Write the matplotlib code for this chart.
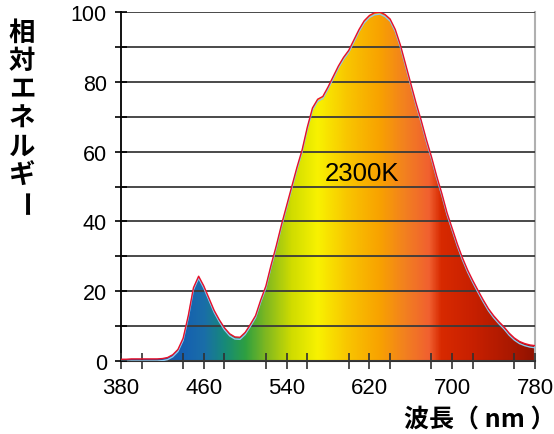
import numpy as np
import matplotlib
matplotlib.use("Agg")
import matplotlib.pyplot as plt
from matplotlib.colors import LinearSegmentedColormap
from matplotlib.patches import Polygon
from matplotlib.ticker import MultipleLocator

# ---- data ----
wavelength = [380, 385, 390, 395, 400, 405, 410, 415, 420, 425, 430, 435, 440, 445, 450,
              455, 460, 465, 470, 475, 480, 485, 490, 495, 500, 505, 510, 515, 520, 525,
              530, 535, 540, 545, 550, 555, 560, 565, 570, 575, 580, 585, 590, 595, 600,
              605, 610, 615, 620, 625, 630, 635, 640, 645, 650, 655, 660, 665, 670, 675,
              680, 685, 690, 695, 700, 705, 710, 715, 720, 725, 730, 735, 740, 745, 750,
              755, 760, 765, 770, 775, 780]
energy = [0.5, 0.5, 0.6, 0.6, 0.6, 0.6, 0.6, 0.6, 0.7, 1.0, 1.8, 3.3, 6.5, 13.0, 21.0,
          24.3, 21.5, 18.0, 14.5, 11.8, 9.5, 7.8, 6.9, 6.8, 8.2, 10.5, 13.0, 17.5, 21.5, 27.5,
          33.0, 39.0, 44.5, 50.0, 55.5, 60.5, 67.0, 72.5, 75.0, 75.8, 78.5, 81.5, 84.5, 87.0, 89.0,
          92.0, 95.0, 97.5, 99.0, 99.8, 100.0, 99.3, 98.0, 95.0, 90.5, 85.0, 79.5, 74.0, 69.0, 63.5,
          58.5, 53.0, 48.0, 42.5, 38.0, 33.5, 29.5, 26.0, 23.0, 20.2, 17.5, 15.0, 13.0, 11.3, 9.8,
          8.0, 6.6, 5.6, 5.0, 4.6, 4.4]
x_ticks = [380, 460, 540, 620, 700, 780]
y_ticks = [0, 20, 40, 60, 80, 100]
label_text = "2300K"
y_label_chars = ["相", "対", "エ", "ネ", "ル", "ギ", "ー"]
x_label = "波長（ nm ）"

# spectrum colour stops (wavelength, colour)
spectrum_stops = [(380, "#2a3c8c"), (440, "#1560b0"), (460, "#1a6ea8"), (480, "#168a78"),
                  (500, "#2ea040"), (520, "#80b820"), (545, "#d0dc00"), (570, "#f8f200"),
                  (600, "#f8c400"), (630, "#f8a200"), (655, "#f28020"), (678, "#f06030"),
                  (690, "#d82a00"), (720, "#c82000"), (760, "#a81800"), (780, "#901200")]

W, H = 554, 435
fig = plt.figure(figsize=(W / 100, H / 100), dpi=100)
ax = fig.add_axes([121 / W, 1 - 362 / H, (535 - 121) / W, (362 - 13) / H])
ax.set_xlim(380, 780)
ax.set_ylim(0, 100)

# gradient fill clipped to curve
lo, hi = spectrum_stops[0][0], spectrum_stops[-1][0]
cmap = LinearSegmentedColormap.from_list(
    "spec", [((w - lo) / (hi - lo), c) for w, c in spectrum_stops])
grad = np.linspace(0, 1, 800).reshape(1, -1)
im = ax.imshow(grad, extent=[380, 780, -1, 101], aspect="auto", origin="lower",
               cmap=cmap, zorder=1, interpolation="bilinear")
verts = [(wavelength[0], 0)] + list(zip(wavelength, energy)) + [(wavelength[-1], 0)]
poly = Polygon(verts, closed=True, facecolor="none", edgecolor="none", transform=ax.transData)
ax.add_patch(poly)
im.set_clip_path(poly)

# grid
ax.yaxis.set_major_locator(MultipleLocator(20))
ax.yaxis.set_minor_locator(MultipleLocator(10))
ax.xaxis.set_major_locator(MultipleLocator(80))
ax.xaxis.set_minor_locator(MultipleLocator(40))
ax.set_xticks(x_ticks)
ax.set_yticks(y_ticks)
ax.grid(True, axis="y", which="both", color="#3a3a3a", linewidth=1.3, zorder=3)
ax.set_axisbelow(False)

# curve lines
e = np.array(energy)
ax.plot(wavelength, e - 0.6, color="#8cc8f0", linewidth=1.0, zorder=4)
ax.plot(wavelength, e, color="#e8102a", linewidth=1.0, zorder=5)

# spines
ax.spines["top"].set_visible(False)
ax.spines["right"].set_color("#b0b0b0")
ax.spines["right"].set_linewidth(1.5)
ax.spines["left"].set_color("black")
ax.spines["left"].set_linewidth(1.3)
ax.spines["bottom"].set_color("#303030")
ax.spines["bottom"].set_linewidth(1.5)

ax.tick_params(axis="x", which="both", direction="inout", length=11.5, width=1.2,
               color="#303030", pad=6, labelsize=16)
ax.tick_params(axis="y", which="both", direction="inout", length=8.5, width=1.2,
               color="black", pad=6, labelsize=15.5)
for lab in ax.get_xticklabels() + ax.get_yticklabels():
    lab.set_fontfamily("Liberation Sans")

ax.text(612.5, 54, label_text, ha="center", va="center", fontsize=18.5,
        family="Liberation Sans", color="black", zorder=6)

# y label: stacked characters
cjk = ["Noto Sans CJK JP", "DejaVu Sans"]
centers = np.linspace(33, 205, len(y_label_chars))
for ch, cy in zip(y_label_chars, centers):
    rot = -90 if ch == "ー" else 0
    fig.text(22 / W, 1 - cy / H, ch, ha="center", va="center", fontsize=19,
             fontweight="bold", family=cjk, rotation=rot)

fig.text(404 / W, 1 - 421 / H, x_label, ha="left", va="center", fontsize=18,
         fontweight="bold", family=cjk)

fig.savefig("out.png", dpi=100, facecolor="white")
